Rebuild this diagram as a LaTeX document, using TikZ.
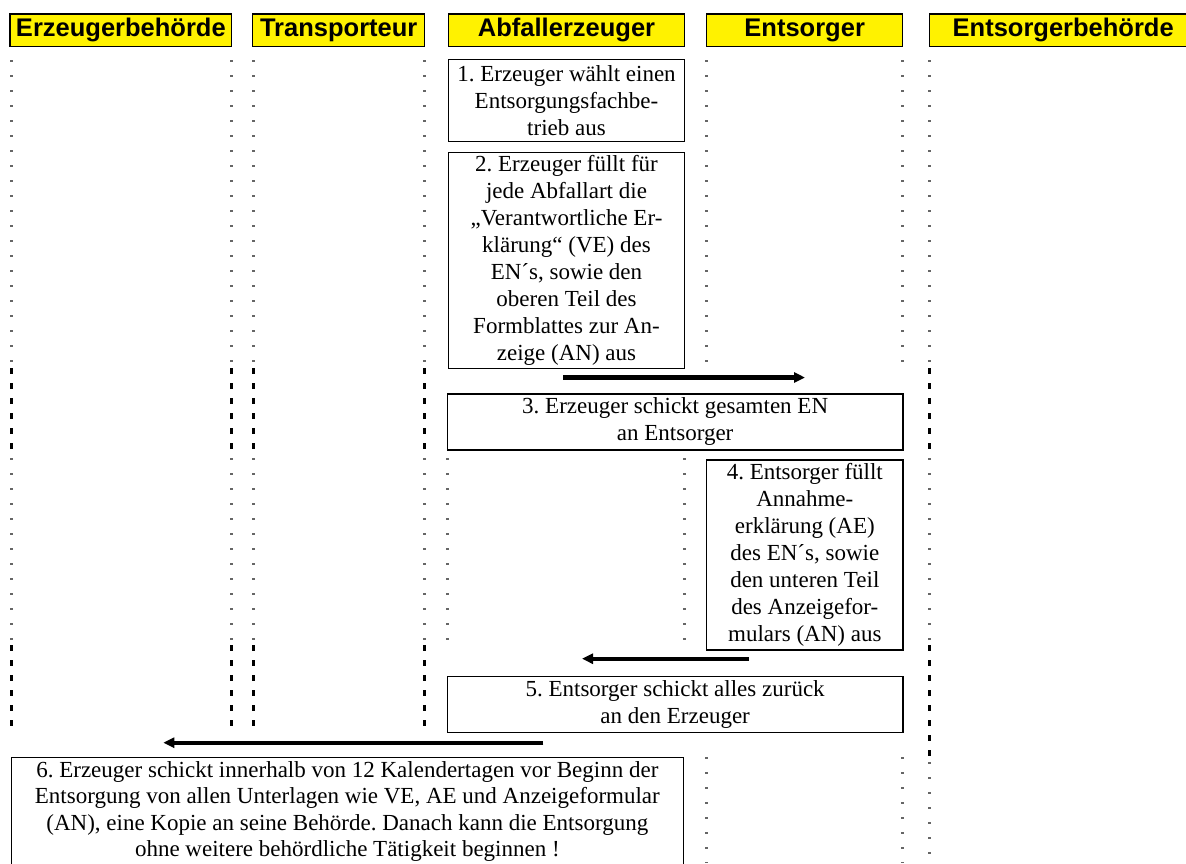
\documentclass[tikz,border=0pt]{standalone}
\usepackage{fontspec}
\setmainfont{Liberation Serif}
\newfontfamily\headfont{Liberation Sans}
\usetikzlibrary{arrows.meta}
\frenchspacing

\begin{document}
\begin{tikzpicture}[
 x=1pt, y=-1pt,
 head/.style={draw, line width=1.4pt, fill=yellow, anchor=north west, minimum height=32.7pt, inner sep=0pt, font=\headfont\bfseries\fontsize{25.5}{28}\selectfont},
 box/.style={draw, line width=1.3pt, anchor=north west, align=center, inner sep=0pt, font=\fontsize{23}{27}\selectfont},
 arrow/.style={-{Triangle[length=11pt,width=10pt]}, line width=4.3pt},
 thinline/.style={line width=3pt, black!60, dash pattern=on 1.5pt off 13.5pt},
 boldline/.style={line width=3pt, dash pattern=on 6pt off 9pt}
]

% Rahmen
\clip (0,0) rectangle (1186,863);
\fill[white] (0,0) rectangle (1186,863);

% Kopfzeile
\node[head, minimum width=221.7pt] (erzb) at (9.3,13.3) {Erzeugerbehörde};
\node[head, minimum width=172pt] (trans) at (252,13.3) {Transporteur};
\node[head, minimum width=236.3pt] (abf) at (447.7,13.3) {Abfallerzeuger};
\node[head, minimum width=196pt] (ents) at (706,13.3) {Entsorger};
\node[head, minimum width=267pt] (entsb) at (929,13.3) {Entsorgerbehörde};

% Lebenslinien
\foreach \x in {11,231,253,424} {
  \draw[thinline] (\x,60) -- (\x,366);
  \draw[boldline] (\x,368) -- (\x,456);
  \draw[thinline] (\x,458) -- (\x,643);
  \draw[boldline] (\x,645) -- (\x,730);
}
\foreach \x in {706,902} {
  \draw[thinline] (\x,60) -- (\x,366);
  \draw[thinline] (\x,757) -- (\x,863);
}
\foreach \x in {447,684} \draw[thinline] (\x,458) -- (\x,643);
\draw[thinline] (929,60) -- (929,366);
\draw[boldline] (929,368) -- (929,456);
\draw[thinline] (929,458) -- (929,643);
\draw[boldline] (929,645) -- (929,760);
\draw[thinline] (929,762) -- (929,863);

% Schritte
\node[box, minimum width=236.3pt, minimum height=82.3pt] (s1) at (447.7,58.7) {1. Erzeuger wählt einen\\Entsorgungsfachbe-\\trieb aus};
\node[box, minimum width=236.3pt, minimum height=216pt] (s2) at (447.7,151.7) {2. Erzeuger füllt für\\jede Abfallart die\\„Verantwortliche Er-\\klärung“ (VE) des\\EN´s, sowie den\\oberen Teil des\\Formblattes zur An-\\zeige (AN) aus};
\node[box, minimum width=455.6pt, minimum height=56pt] (s3) at (446.7,393.3) {3. Erzeuger schickt gesamten EN\\an Entsorger};
\node[box, minimum width=196.3pt, minimum height=190pt] (s4) at (706,459.3) {4. Entsorger füllt\\Annahme-\\erklärung (AE)\\des EN´s, sowie\\den unteren Teil\\des Anzeigefor-\\mulars (AN) aus};
\node[box, minimum width=455.6pt, minimum height=56pt] (s5) at (446.7,675.7) {5. Entsorger schickt alles zurück\\an den Erzeuger};
\node[box, minimum width=672pt, minimum height=108pt, font=\fontsize{23}{26.5}\selectfont] (s6) at (10.7,756.7) {6. Erzeuger schickt innerhalb von 12 Kalendertagen vor Beginn der\\Entsorgung von allen Unterlagen wie VE, AE und Anzeigeformular\\(AN), eine Kopie an seine Behörde. Danach kann die Entsorgung\\ohne weitere behördliche Tätigkeit beginnen !};

% Pfeile
\coordinate (a3s) at (563,377.5);
\coordinate (a3e) at (805,377.5);
\coordinate (a5s) at (749,658.7);
\coordinate (a5e) at (582,658.7);
\coordinate (a6s) at (543.3,742.7);
\coordinate (a6e) at (163.3,742.7);
\draw[arrow] (a3s) -- (a3e);
\draw[arrow] (a5s) -- (a5e);
\draw[arrow] (a6s) -- (a6e);

\end{tikzpicture}
\end{document}
